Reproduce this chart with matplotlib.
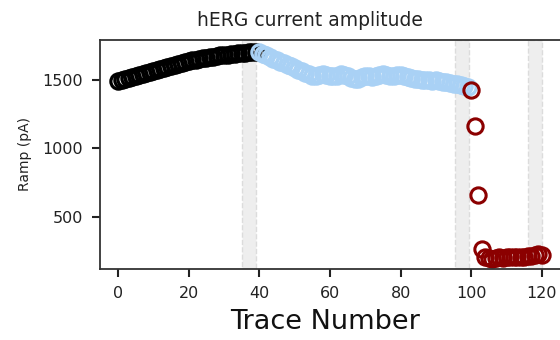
import matplotlib
matplotlib.use('Agg')
import matplotlib.pyplot as plt

# control traces (black), wash-in (light blue), block (dark red)
x_ctrl = list(range(0, 40))
y_ctrl = [1495, 1500, 1508, 1515, 1520, 1528, 1535, 1545, 1550, 1558,
          1565, 1572, 1580, 1585, 1592, 1600, 1608, 1615, 1622, 1630,
          1638, 1642, 1648, 1652, 1658, 1662, 1667, 1670, 1675, 1678,
          1682, 1685, 1688, 1690, 1693, 1696, 1698, 1700, 1703, 1705]

x_drug = list(range(40, 100))
y_drug = [1700, 1690, 1680, 1668, 1655, 1645, 1632, 1620, 1610, 1598,
          1588, 1575, 1562, 1550, 1540, 1530, 1528, 1535, 1540, 1538,
          1530, 1525, 1532, 1540, 1536, 1525, 1515, 1507, 1510, 1518,
          1525, 1530, 1522, 1528, 1536, 1540, 1535, 1530, 1528, 1535,
          1538, 1530, 1522, 1515, 1510, 1505, 1500, 1502, 1498, 1495,
          1500, 1492, 1488, 1482, 1478, 1472, 1468, 1462, 1455, 1450]

x_block = list(range(100, 121))
y_block = [1430, 1165, 660, 270, 205, 200, 195, 200, 205, 198,
           208, 205, 210, 205, 212, 210, 218, 215, 225, 232, 220]

bands = [(35, 39), (95.5, 99.5), (116, 120)]

fig = plt.figure(figsize=(5.6, 3.4), dpi=100)
ax = fig.add_axes([100 / 560, 71 / 340, 480 / 560, 229 / 340])

for a, b in bands:
    ax.axvspan(a, b, facecolor='#eeeeee', edgecolor='#dcdcdc', linestyle='--', linewidth=1, zorder=0)

ax.plot(x_ctrl, y_ctrl, 'o', ms=11, mfc='none', mec='black', mew=2.3)
ax.plot(x_drug, y_drug, 'o', ms=11, mfc='none', mec='#a9d1f5', mew=2.3)
ax.plot(x_block, y_block, 'o', ms=11, mfc='none', mec='#8b0000', mew=2.2)

ax.set_xlim(-5.1, 130.8)
ax.set_ylim(121, 1791)
ax.set_xticks([0, 20, 40, 60, 80, 100, 120])
ax.set_yticks([500, 1000, 1500])

for s in ax.spines.values():
    s.set_color('#333333')
    s.set_linewidth(1.3)
ax.tick_params(axis='both', labelsize=11.5, colors='#222222', length=6, width=1.5, pad=6,
               top=False, right=False)

ax.text(0.4375, 1.045, 'hERG current amplitude', transform=ax.transAxes,
        ha='center', va='bottom', fontsize=13.5, color='#222222')
ax.set_ylabel('Ramp (pA)', fontsize=10, color='#222222', labelpad=8)
ax.set_xlabel('Trace Number', fontsize=19.5, color='#111111')
ax.xaxis.set_label_coords(0.469, -0.175)

plt.savefig('out.png', dpi=100)
